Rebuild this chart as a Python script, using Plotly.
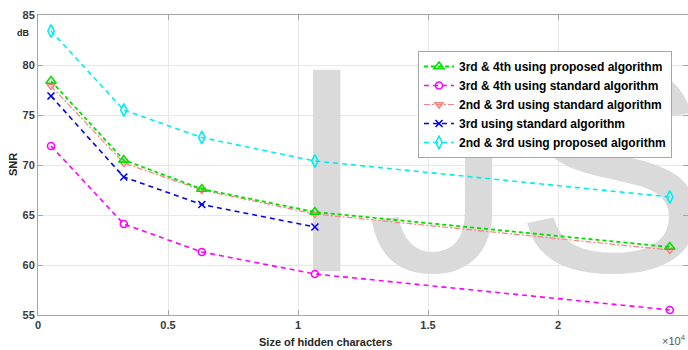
import plotly.graph_objects as go

# x in units of 10^4 characters
sizes = [0.05, 0.33, 0.63, 1.065, 2.43]
sizes_blue = [0.05, 0.33, 0.63, 1.065]

snr_34_proposed = [78.4, 70.5, 67.6, 65.3, 61.8]
snr_34_standard = [71.9, 64.1, 61.3, 59.1, 55.5]
snr_23_standard = [77.9, 70.2, 67.5, 65.1, 61.5]
snr_3_standard = [76.9, 68.8, 66.05, 63.8]
snr_23_proposed = [83.4, 75.5, 72.75, 70.4, 66.8]

names = [
    "3rd & 4th using proposed algorithm",
    "3rd & 4th using standard algorithm",
    "2nd & 3rd using standard algorithm",
    "3rd using standard algorithm",
    "2nd & 3rd using proposed algorithm",
]

FONT = "Liberation Sans"

fig = go.Figure()

# watermark (drawn first so it sits under the data)
fig.add_trace(go.Scatter(
    x=[0.954], y=[66.7], mode="text", text=["IJS"],
    textposition="middle right",
    textfont=dict(family=FONT, size=293, color="rgb(218,218,218)"),
    showlegend=False, hoverinfo="skip",
))

series = [
    (sizes, snr_34_standard, names[1], "#ff00ff", "circle-open", "5px,4px", 1.6, 7),
    (sizes, snr_23_proposed, names[4], "#00eeee", "diamond-tall-open", "5px,4px", 1.6, 9),
    (sizes_blue, snr_3_standard, names[3], "#0000ff", "x-thin-open", "5px,4px", 1.6, 7),
    (sizes, snr_23_standard, names[2], "#ff8080", "triangle-down-open", "6px,2px,2px,2px", 1.2, 7),
    (sizes, snr_34_proposed, names[0], "#00e000", "triangle-up-open", "4px,3px", 1.8, 9),
]
order = {n: i for i, n in enumerate(names)}
for xs, ys, name, col, sym, dash, lw, ms in series:
    fig.add_trace(go.Scatter(
        x=xs, y=ys, name=name, mode="lines+markers",
        line=dict(color=col, width=lw, dash=dash),
        marker=dict(symbol=sym, size=ms, color=col, line=dict(color=col, width=1.6)),
        legendrank=order[name] + 1,
    ))

axis_common = dict(
    showline=True, linecolor="#a6a6a6", linewidth=1, mirror="ticks",
    ticks="inside", ticklen=5, tickcolor="#a6a6a6",
    showgrid=True, gridcolor="#e8e8e8", gridwidth=1,
    zeroline=False, automargin=False,
    tickfont=dict(family=FONT, size=11, color="#3a3a3a", weight="bold"),
)

fig.update_layout(
    width=688, height=350,
    margin=dict(l=38, r=0, t=15, b=35),
    paper_bgcolor="white", plot_bgcolor="white",
    font=dict(family=FONT, color="#222"),
    xaxis=dict(range=[0, 2.5], dtick=0.5, tickformat="~g", **axis_common),
    yaxis=dict(range=[55, 85], dtick=5, **axis_common),
    legend=dict(
        x=(418 - 38) / 650, y=(315 - 51) / 300, xanchor="left", yanchor="top",
        bgcolor="white", bordercolor="#a6a6a6", borderwidth=1,
        font=dict(family=FONT, size=12, color="black", weight="bold"),
        itemwidth=30, tracegroupgap=0,
    ),
    annotations=[
        dict(text="Size of hidden characters", xref="paper", yref="paper",
             x=(325 - 38) / 650, y=-(342 - 315) / 300, xanchor="center", yanchor="middle",
             showarrow=False, font=dict(family=FONT, size=11, color="#262626", weight="bold")),
        dict(text="SNR", xref="paper", yref="paper", textangle=-90,
             x=-(38 - 13) / 650, y=(315 - 165) / 300, xanchor="center", yanchor="middle",
             showarrow=False, font=dict(family=FONT, size=11, color="#262626", weight="bold")),
        dict(text="dB", xref="paper", yref="paper",
             x=-(38 - 23) / 650, y=(315 - 33) / 300, xanchor="center", yanchor="middle",
             showarrow=False, font=dict(family=FONT, size=9, color="#262626", weight="bold")),
        dict(text="×10<sup>4</sup>", xref="paper", yref="paper",
             x=1.0, y=-(340 - 315) / 300, xanchor="right", yanchor="middle",
             showarrow=False, font=dict(family=FONT, size=11, color="#555")),
    ],
)

fig.write_html("out.html")
